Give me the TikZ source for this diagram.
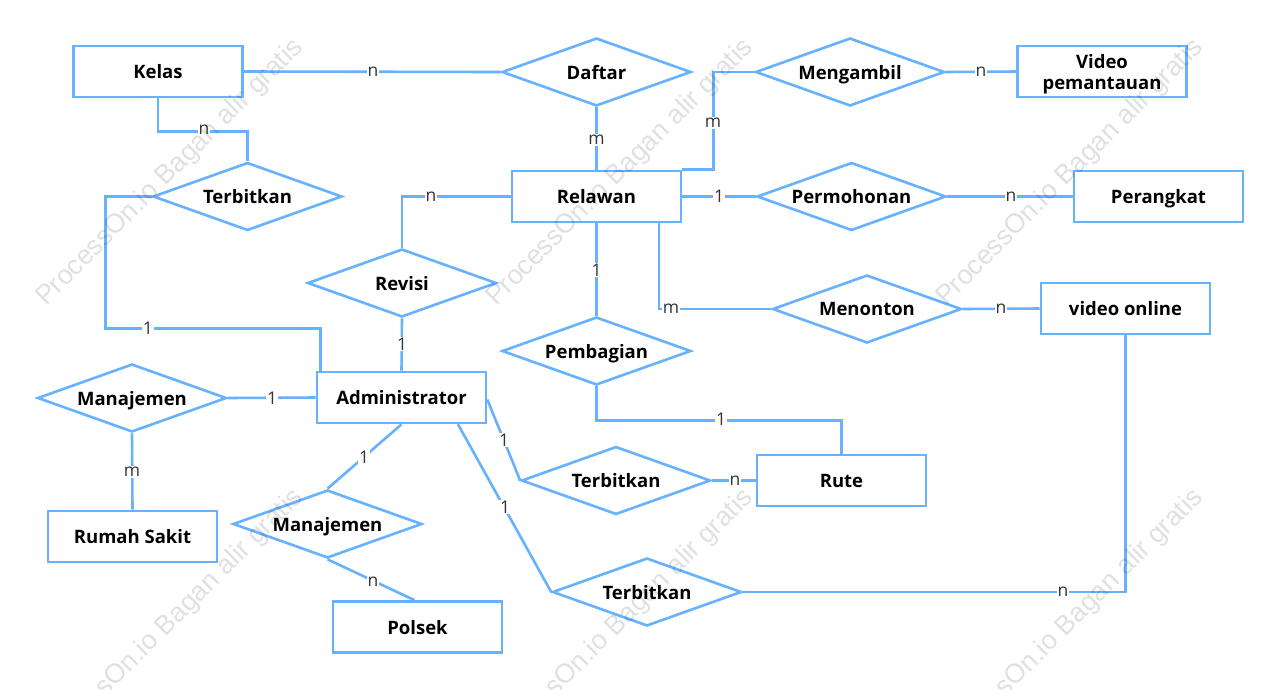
\documentclass[tikz,border=0pt]{standalone}
\usepackage{fontspec}
\setmainfont{Open Sans}
\newfontfamily\wmfont{Liberation Sans}
\usetikzlibrary{shapes.geometric,calc}
\definecolor{erblue}{RGB}{102,178,255}
\definecolor{lblgray}{RGB}{51,51,51}
\begin{document}
\begin{tikzpicture}[x=1pt,y=-1pt,
  entity/.style={draw=erblue,line width=2.6pt,fill=white,minimum width=169pt,minimum height=51pt,inner sep=0pt,text depth=0pt,font=\fontsize{18.5}{21}\selectfont\bfseries,align=center},
  rel/.style={diamond,draw=erblue,line width=2.6pt,fill=white,minimum width=189pt,minimum height=68pt,aspect=2.8,inner sep=0pt,text depth=0pt,font=\fontsize{18.5}{21}\selectfont\bfseries},
  conn/.style={draw=erblue,line width=2.6pt},
  lbl/.style={fill=white,inner sep=1pt,text=lblgray,font=\fontsize{17.5}{18}\selectfont},
  wm/.style={text=black,text opacity=0.12,rotate=45,font=\wmfont\fontsize{27}{28}\selectfont}]
\fill[white] (0,0) rectangle (1280,689);
\useasboundingbox (0,0) rectangle (1280,689);

% entities and relationships
\node[entity] (kelas) at (158,71.5) {Kelas};
\node[rel] (daftar) at (596.5,72) {Daftar};
\node[rel] (mengambil) at (850,72) {Mengambil};
\node[entity] (video) at (1102,71.5) {Video\\pemantauan};
\node[rel] (terbitA) at (247.5,196.5) {Terbitkan};
\node[entity] (relawan) at (596.5,196.5) {Relawan};
\node[rel] (permohonan) at (851.5,196.5) {Permohonan};
\node[entity] (perangkat) at (1158.5,196.5) {Perangkat};
\node[rel] (revisi) at (402,283) {Revisi};
\node[rel] (menonton) at (867,309) {Menonton};
\node[entity] (vonline) at (1125.5,308.5) {video online};
\node[rel] (pembagian) at (596.5,351) {Pembagian};
\node[rel] (manA) at (132,398) {Manajemen};
\node[entity] (admin) at (401.5,397.5) {Administrator};
\node[rel] (terbitB) at (616,480.5) {Terbitkan};
\node[entity] (rute) at (841.5,480.5) {Rute};
\node[entity] (rumah) at (132.5,536.5) {Rumah Sakit};
\node[rel] (manB) at (327.5,524) {Manajemen};
\node[rel] (terbitC) at (647,592) {Terbitkan};
\node[entity] (polsek) at (417.5,627) {Polsek};

% connectors
\draw[conn] (kelas.east) -- (daftar.west);
\draw[conn] (daftar.south) -- (relawan.north);
\draw[conn] (relawan.north east) -- ++(31,0) |- (mengambil.west);
\draw[conn] (mengambil.east) -- (video.west);
\draw[conn] (relawan.east) -- (permohonan.west);
\draw[conn] (permohonan.east) -- (perangkat.west);
\draw[conn] ($(relawan.south east)+(-23.5,0)$) |- (menonton.west);
\draw[conn] (relawan.south) -- (pembagian.north);
\draw[conn] (menonton.east) -- (vonline.west);
\draw[conn] (pembagian.south) -- ++(0,34) -| (rute.north);
\draw[conn] (revisi.north) |- (relawan.west);
\draw[conn] (revisi.south) -- (admin.north);
\draw[conn] (kelas.south) -- ++(0,33) -| (terbitA.north);
\draw[conn] (terbitA.west) -- ++(-46,0) -- ++(0,132) -| ($(admin.north west)+(5,0)$);
\draw[conn] (manA.east) -- (admin.west);
\draw[conn] (manA.south) -- (rumah.north);
\draw[conn] (admin.south) -- (manB.north);
\draw[conn] (manB.south) -- ($(polsek.north)+(-3,0)$);
\draw[conn] ($(admin.east)+(0,2)$) -- (terbitB.west);
\draw[conn] ($(admin.south)+(56.5,0)$) -- (terbitC.west);
\draw[conn] (terbitB.east) -- (rute.west);
\draw[conn] (terbitC.east) -| (vonline.south);

% cardinality labels
\node[lbl] (l1) at (373,72) {n};
\node[lbl] (l2) at (596.5,140) {m};
\node[lbl] (l3) at (713,123) {m};
\node[lbl] (l4) at (981,72) {n};
\node[lbl] (l5) at (719,196.5) {1};
\node[lbl] (l6) at (1011,196.5) {n};
\node[lbl] (l7) at (671,309) {m};
\node[lbl] (l8) at (596.5,270) {1};
\node[lbl] (l9) at (1001,309) {n};
\node[lbl] (l10) at (721,419) {1};
\node[lbl] (l11) at (431,196.5) {n};
\node[lbl] (l12) at (402,344) {1};
\node[lbl] (l13) at (204,130) {n};
\node[lbl] (l14) at (148,328.5) {1};
\node[lbl] (l15) at (272,398) {1};
\node[lbl] (l16) at (132,472) {m};
\node[lbl] (l17) at (364,457) {1};
\node[lbl] (l18) at (373,582) {n};
\node[lbl] (l19) at (504,440) {1};
\node[lbl] (l20) at (505,507) {1};
\node[lbl] (l21) at (735,481) {n};
\node[lbl] (l22) at (1063,592) {n};

% watermarks
\node[wm] (w1) at (170,173) {ProcessOn.io Bagan alir gratis};
\node[wm] (w2) at (620,173) {ProcessOn.io Bagan alir gratis};
\node[wm] (w3) at (1070,173) {ProcessOn.io Bagan alir gratis};
\node[wm] (w4) at (170,623) {ProcessOn.io Bagan alir gratis};
\node[wm] (w5) at (620,623) {ProcessOn.io Bagan alir gratis};
\node[wm] (w6) at (1070,623) {ProcessOn.io Bagan alir gratis};
\end{tikzpicture}
\end{document}
